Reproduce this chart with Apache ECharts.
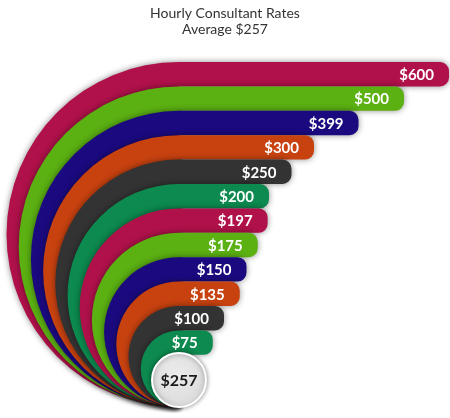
<!DOCTYPE html>
<html>
<head>
<meta charset="utf-8">
<script src="https://cdn.jsdelivr.net/npm/echarts@6/dist/echarts.min.js"></script>
<style>
html,body{margin:0;padding:0;background:#fff;}
#main{width:450px;height:418px;}
</style>
</head>
<body>
<div id="main"></div>
<script>
// ---- data ----
var categories = ['$600', '$500', '$399', '$300', '$250', '$200', '$197', '$175', '$150', '$135', '$100', '$75'];
var rates = [600, 500, 399, 300, 250, 200, 197, 175, 150, 135, 100, 75];
var colors = ['#B0114A', '#5BB012', '#1B0A7F', '#C84210', '#333333', '#0C8A4F',
              '#B0114A', '#5BB012', '#1B0A7F', '#C84210', '#333333', '#0C8A4F'];
var average = Math.round(rates.reduce(function (a, b) { return a + b; }, 0) / rates.length);
var titleText = 'Hourly Consultant Rates';
var subText = 'Average $' + average;

// ---- layout constants ----
var TANGENT_Y = 407;   // bottom point where all arcs meet
var CORNER = 9;
var CIRCLE_R = 27;

var chart = echarts.init(document.getElementById('main'), null, {renderer: 'canvas'});

function bandItem(params, api) {
  var val = api.value(0);
  var cat = api.value(1);
  var p0 = api.coord([0, cat]);
  var p1 = api.coord([val, cat]);
  var h = api.size([0, 1])[1];
  var x0 = p0[0], x1 = p1[0];
  var yT = p0[1] - h / 2, yBt = p0[1] + h / 2;
  var R = (TANGENT_Y - yT) / 2;
  var rr = CORNER;
  var d = 'M' + x0 + ' ' + yT +
    ' L' + (x1 - rr) + ' ' + yT +
    ' A' + rr + ' ' + rr + ' 0 0 1 ' + x1 + ' ' + (yT + rr) +
    ' L' + x1 + ' ' + (yBt - rr) +
    ' A' + rr + ' ' + rr + ' 0 0 1 ' + (x1 - rr) + ' ' + yBt +
    ' L' + x0 + ' ' + yBt +
    ' L' + x0 + ' ' + TANGENT_Y +
    ' A' + R + ' ' + R + ' 0 0 1 ' + x0 + ' ' + yT + ' Z';
  return {
    type: 'group',
    children: [{
      type: 'path',
      shape: {pathData: d},
      style: {
        fill: colors[params.dataIndex],
        shadowBlur: 6,
        shadowColor: 'rgba(0,0,0,0.45)'
      }
    }, {
      type: 'text',
      style: {
        text: categories[params.dataIndex],
        x: x1 - 15,
        y: p0[1] + 1,
        align: 'right',
        verticalAlign: 'middle',
        fill: '#ffffff',
        font: 'bold 15px Lato'
      }
    }]
  };
}

function avgItem(params, api) {
  var p = api.coord([0, categories[categories.length - 1]]);
  var cx = p[0], cy = TANGENT_Y - CIRCLE_R;
  return {
    type: 'group',
    children: [{
      type: 'circle',
      shape: {cx: cx, cy: cy, r: CIRCLE_R},
      style: {
        fill: new echarts.graphic.RadialGradient(0.45, 0.4, 0.6, [
          {offset: 0, color: '#ececec'},
          {offset: 0.8, color: '#dedede'},
          {offset: 1, color: '#f4f4f4'}
        ]),
        stroke: '#ffffff',
        lineWidth: 2,
        shadowBlur: 5,
        shadowColor: 'rgba(0,0,0,0.45)'
      }
    }, {
      type: 'text',
      style: {
        text: '$' + api.value(0),
        x: cx,
        y: cy + 1,
        align: 'center',
        verticalAlign: 'middle',
        fill: '#1a1a1a',
        font: 'bold 16px Lato'
      }
    }]
  };
}

chart.setOption({
  animation: false,
  title: {
    text: titleText + '\n' + subText,
    left: 'center',
    top: 0,
    textStyle: {fontFamily: 'Lato', fontSize: 14, fontWeight: 'normal', color: '#333', lineHeight: 16}
  },
  grid: {left: 179, right: 1, top: 62, bottom: 63.2},
  xAxis: {type: 'value', min: 0, max: 600, show: false},
  yAxis: {type: 'category', data: categories, inverse: true, show: false},
  series: [{
    type: 'custom',
    renderItem: bandItem,
    data: rates.map(function (v, i) { return [v, categories[i]]; }),
    encode: {x: 0, y: 1},
    clip: false
  }, {
    type: 'custom',
    renderItem: avgItem,
    data: [[average]],
    encode: {x: 0},
    clip: false,
    z: 3
  }]
});
</script>
</body>
</html>
